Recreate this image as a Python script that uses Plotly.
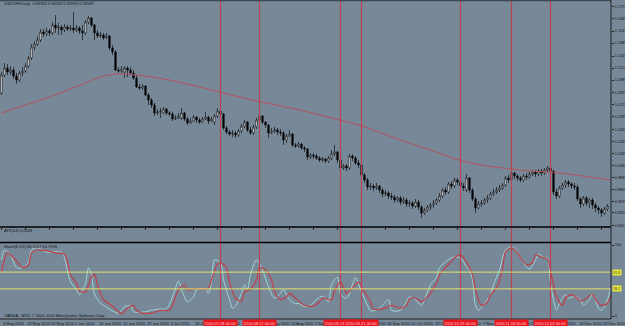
import plotly.graph_objects as go

# ---------------- data (USDCHF daily) ----------------
opens = [1.0846, 1.1040, 1.1116, 1.1072, 1.1094, 1.1029, 1.0986, 1.1062, 1.1083, 1.1137,
         1.1224, 1.1342, 1.1375, 1.1418, 1.1504, 1.1483, 1.1515, 1.1494, 1.1580, 1.1548,
         1.1558, 1.1526, 1.1558, 1.1537, 1.1548, 1.1526, 1.1548, 1.1515, 1.1494, 1.1612,
         1.1656, 1.1580, 1.1494, 1.1461, 1.1472, 1.1440, 1.1461, 1.1332, 1.1288, 1.1094,
         1.1083, 1.1072, 1.1116, 1.1094, 1.1062, 1.1008, 1.0910, 1.0900, 1.0921, 1.0824,
         1.0770, 1.0716, 1.0630, 1.0640, 1.0630, 1.0673, 1.0630, 1.0619, 1.0565, 1.0576,
         1.0576, 1.0630, 1.0565, 1.0522, 1.0543, 1.0586, 1.0554, 1.0532, 1.0565, 1.0586,
         1.0543, 1.0532, 1.0597, 1.0651, 1.0619, 1.0468, 1.0424, 1.0403, 1.0414, 1.0392,
         1.0435, 1.0489, 1.0532, 1.0446, 1.0414, 1.0478, 1.0554, 1.0597, 1.0532, 1.0500,
         1.0414, 1.0435, 1.0446, 1.0424, 1.0414, 1.0338, 1.0381, 1.0403, 1.0284, 1.0273,
         1.0295, 1.0252, 1.0241, 1.0154, 1.0176, 1.0165, 1.0144, 1.0122, 1.0133, 1.0111,
         1.0144, 1.0187, 1.0208, 1.0122, 1.0036, 1.0057, 1.0036, 1.0165, 1.0144, 1.0090,
         1.0068, 0.9960, 0.9906, 0.9830, 0.9841, 0.9820, 0.9841, 0.9798, 0.9755, 0.9766,
         0.9733, 0.9722, 0.9690, 0.9712, 0.9668, 0.9690, 0.9647, 0.9658, 0.9625, 0.9668,
         0.9614, 0.9550, 0.9582, 0.9614, 0.9636, 0.9658, 0.9690, 0.9733, 0.9798, 0.9776,
         0.9863, 0.9841, 0.9906, 0.9884, 0.9841, 0.9798, 0.9928, 0.9798, 0.9701, 0.9604,
         0.9647, 0.9658, 0.9690, 0.9712, 0.9755, 0.9776, 0.9798, 0.9820, 0.9852, 0.9928,
         0.9906, 0.9982, 0.9949, 0.9928, 0.9906, 0.9949, 0.9938, 0.9971, 0.9992, 0.9971,
         1.0003, 0.9982, 1.0014, 1.0036, 1.0003, 0.9776, 0.9733, 0.9820, 0.9852, 0.9884,
         0.9863, 0.9841, 0.9830, 0.9701, 0.9647, 0.9712, 0.9658, 0.9690, 0.9636, 0.9604,
         0.9582, 0.9550, 0.9593]
highs = [1.1072, 1.1170, 1.1159, 1.1137, 1.1126, 1.1062, 1.1083, 1.1126, 1.1170, 1.1245,
         1.1375, 1.1407, 1.1461, 1.1537, 1.1537, 1.1548, 1.1537, 1.1612, 1.1688, 1.1602,
         1.1580, 1.1591, 1.1580, 1.1580, 1.1720, 1.1580, 1.1569, 1.1580, 1.1634, 1.1677,
         1.1666, 1.1591, 1.1526, 1.1504, 1.1494, 1.1494, 1.1472, 1.1364, 1.1310, 1.1126,
         1.1137, 1.1137, 1.1137, 1.1126, 1.1094, 1.1040, 1.0943, 1.0943, 1.0932, 1.0846,
         1.0792, 1.0738, 1.0673, 1.0684, 1.0694, 1.0684, 1.0651, 1.0640, 1.0608, 1.0630,
         1.0684, 1.0640, 1.0586, 1.0576, 1.0608, 1.0597, 1.0576, 1.0586, 1.0640, 1.0597,
         1.0586, 1.0619, 1.0684, 1.0662, 1.0630, 1.0489, 1.0446, 1.0446, 1.0435, 1.0457,
         1.0511, 1.0554, 1.0543, 1.0478, 1.0500, 1.0576, 1.0630, 1.0608, 1.0543, 1.0511,
         1.0468, 1.0478, 1.0468, 1.0457, 1.0435, 1.0403, 1.0446, 1.0414, 1.0306, 1.0316,
         1.0306, 1.0273, 1.0252, 1.0198, 1.0198, 1.0187, 1.0165, 1.0154, 1.0144, 1.0165,
         1.0230, 1.0284, 1.0219, 1.0144, 1.0079, 1.0079, 1.0187, 1.0187, 1.0165, 1.0122,
         1.0090, 0.9982, 0.9928, 0.9874, 0.9863, 0.9874, 0.9852, 0.9820, 0.9798, 0.9787,
         0.9766, 0.9744, 0.9733, 0.9733, 0.9722, 0.9712, 0.9690, 0.9679, 0.9701, 0.9690,
         0.9636, 0.9604, 0.9636, 0.9658, 0.9690, 0.9712, 0.9766, 0.9820, 0.9830, 0.9884,
         0.9895, 0.9928, 0.9928, 0.9917, 0.9874, 0.9971, 0.9938, 0.9820, 0.9722, 0.9679,
         0.9690, 0.9712, 0.9744, 0.9776, 0.9809, 0.9830, 0.9852, 0.9874, 0.9949, 0.9960,
         1.0003, 0.9992, 0.9971, 0.9949, 0.9971, 0.9982, 0.9992, 1.0014, 1.0014, 1.0025,
         1.0025, 1.0036, 1.0057, 1.0057, 1.0014, 0.9809, 0.9841, 0.9874, 0.9906, 0.9906,
         0.9884, 0.9874, 0.9852, 0.9722, 0.9733, 0.9733, 0.9712, 0.9712, 0.9658, 0.9625,
         0.9604, 0.9614, 0.9647]
lows = [1.0824, 1.1018, 1.1040, 1.1040, 1.0997, 1.0943, 1.0964, 1.1029, 1.1062, 1.1116,
        1.1202, 1.1310, 1.1353, 1.1396, 1.1450, 1.1461, 1.1461, 1.1472, 1.1494, 1.1472,
        1.1472, 1.1504, 1.1515, 1.1515, 1.1494, 1.1504, 1.1483, 1.1418, 1.1472, 1.1591,
        1.1558, 1.1418, 1.1440, 1.1440, 1.1418, 1.1429, 1.1310, 1.1256, 1.1083, 1.1062,
        1.1062, 1.1008, 1.1018, 1.1040, 1.0986, 1.0900, 1.0878, 1.0878, 1.0813, 1.0716,
        1.0684, 1.0597, 1.0608, 1.0576, 1.0619, 1.0608, 1.0597, 1.0543, 1.0554, 1.0565,
        1.0554, 1.0543, 1.0500, 1.0511, 1.0532, 1.0522, 1.0511, 1.0522, 1.0554, 1.0511,
        1.0532, 1.0500, 1.0576, 1.0586, 1.0446, 1.0403, 1.0381, 1.0370, 1.0360, 1.0370,
        1.0414, 1.0468, 1.0424, 1.0392, 1.0392, 1.0457, 1.0532, 1.0511, 1.0468, 1.0360,
        1.0403, 1.0414, 1.0392, 1.0381, 1.0284, 1.0306, 1.0370, 1.0262, 1.0252, 1.0252,
        1.0230, 1.0208, 1.0122, 1.0133, 1.0133, 1.0122, 1.0100, 1.0100, 1.0090, 1.0090,
        1.0122, 1.0165, 1.0090, 0.9938, 1.0014, 1.0003, 1.0014, 1.0111, 1.0068, 1.0036,
        0.9928, 0.9874, 0.9798, 0.9798, 0.9787, 0.9798, 0.9766, 0.9722, 0.9733, 0.9701,
        0.9690, 0.9658, 0.9668, 0.9636, 0.9647, 0.9614, 0.9614, 0.9593, 0.9604, 0.9582,
        0.9496, 0.9528, 0.9560, 0.9582, 0.9604, 0.9636, 0.9668, 0.9712, 0.9744, 0.9755,
        0.9809, 0.9820, 0.9852, 0.9809, 0.9787, 0.9776, 0.9766, 0.9679, 0.9550, 0.9593,
        0.9614, 0.9636, 0.9658, 0.9690, 0.9733, 0.9755, 0.9776, 0.9798, 0.9830, 0.9874,
        0.9884, 0.9917, 0.9895, 0.9884, 0.9884, 0.9906, 0.9917, 0.9949, 0.9938, 0.9949,
        0.9949, 0.9960, 0.9992, 0.9960, 0.9744, 0.9701, 0.9712, 0.9798, 0.9820, 0.9830,
        0.9809, 0.9798, 0.9679, 0.9604, 0.9625, 0.9625, 0.9604, 0.9593, 0.9560, 0.9539,
        0.9506, 0.9528, 0.9571]
closes = [1.1040, 1.1116, 1.1072, 1.1094, 1.1029, 1.0986, 1.1062, 1.1083, 1.1137, 1.1224,
          1.1342, 1.1375, 1.1418, 1.1504, 1.1483, 1.1515, 1.1494, 1.1580, 1.1548, 1.1558,
          1.1526, 1.1558, 1.1537, 1.1548, 1.1526, 1.1548, 1.1515, 1.1494, 1.1612, 1.1656,
          1.1580, 1.1494, 1.1461, 1.1472, 1.1440, 1.1461, 1.1332, 1.1288, 1.1094, 1.1083,
          1.1105, 1.1116, 1.1094, 1.1062, 1.1008, 1.0910, 1.0900, 1.0921, 1.0824, 1.0770,
          1.0716, 1.0630, 1.0640, 1.0651, 1.0673, 1.0630, 1.0619, 1.0565, 1.0576, 1.0597,
          1.0630, 1.0565, 1.0522, 1.0543, 1.0586, 1.0554, 1.0532, 1.0565, 1.0586, 1.0543,
          1.0565, 1.0597, 1.0651, 1.0619, 1.0468, 1.0424, 1.0403, 1.0414, 1.0392, 1.0435,
          1.0489, 1.0532, 1.0446, 1.0414, 1.0478, 1.0554, 1.0597, 1.0532, 1.0500, 1.0414,
          1.0435, 1.0446, 1.0424, 1.0414, 1.0338, 1.0381, 1.0403, 1.0284, 1.0273, 1.0295,
          1.0252, 1.0241, 1.0154, 1.0176, 1.0165, 1.0144, 1.0122, 1.0133, 1.0111, 1.0144,
          1.0187, 1.0208, 1.0122, 1.0036, 1.0057, 1.0036, 1.0165, 1.0144, 1.0090, 1.0068,
          0.9960, 0.9906, 0.9830, 0.9841, 0.9820, 0.9841, 0.9798, 0.9755, 0.9766, 0.9733,
          0.9722, 0.9690, 0.9712, 0.9668, 0.9690, 0.9647, 0.9658, 0.9625, 0.9668, 0.9614,
          0.9550, 0.9582, 0.9614, 0.9636, 0.9658, 0.9690, 0.9733, 0.9798, 0.9776, 0.9863,
          0.9841, 0.9906, 0.9884, 0.9841, 0.9820, 0.9928, 0.9798, 0.9701, 0.9604, 0.9647,
          0.9658, 0.9690, 0.9712, 0.9755, 0.9776, 0.9798, 0.9820, 0.9852, 0.9928, 0.9906,
          0.9982, 0.9949, 0.9928, 0.9906, 0.9949, 0.9938, 0.9971, 0.9992, 0.9971, 1.0003,
          0.9982, 1.0014, 1.0036, 1.0003, 0.9776, 0.9733, 0.9820, 0.9852, 0.9884, 0.9863,
          0.9841, 0.9830, 0.9701, 0.9647, 0.9712, 0.9658, 0.9690, 0.9636, 0.9604, 0.9582,
          0.9550, 0.9593, 0.9625]

# moving average (bar index, value)
ma_idx = [0, 7, 16, 22, 28, 33, 37, 42, 50, 56, 61, 66, 73, 86, 100, 112, 120,
          133, 143, 153, 163, 170, 176, 183, 189, 196, 203]
ma_val = [1.0630, 1.0705, 1.0802, 1.0878, 1.0954, 1.1018, 1.1045, 1.1051, 1.1018,
          1.0986, 1.0948, 1.0910, 1.0851, 1.0754, 1.0657, 1.0559, 1.0489, 1.0338,
          1.0230, 1.0117, 1.0052, 1.0025, 1.0003, 0.9992, 0.9971, 0.9938, 0.9906]

# stochastic %K (main, cyan) and %D (signal, red)
stk_idx = [0, 1, 3, 5, 7, 9, 10, 12, 15, 20, 21, 23, 25, 26, 28, 29, 30, 31, 33, 34,
           37, 39, 41, 43, 44, 48, 50, 53, 55, 57, 59, 60, 62, 64, 65, 68, 69, 70, 71, 73,
           74, 76, 77, 78, 80, 81, 82, 83, 85, 87, 89, 91, 93, 94, 96, 98, 99, 101, 103, 105,
           107, 109, 110, 112, 113, 115, 117, 118, 120, 122, 123, 126, 129, 130, 133, 135, 136, 138, 140, 141,
           143, 145, 146, 148, 150, 151, 153, 155, 156, 157, 158, 159, 161, 163, 164, 166, 168, 170, 171, 173,
           175, 176, 178, 179, 181, 182, 183, 185, 186, 188, 189, 191, 193, 194, 196, 197, 199, 200, 202, 203]
stk_val = [79, 93, 86, 68, 68, 76, 93, 96, 90, 90, 82, 48, 37, 30, 46, 68, 58, 31, 18, 15,
           7, 4, 13, 14, 6, 6, 8, 10, 10, 27, 49, 37, 20, 27, 37, 38, 32, 48, 79, 75,
           51, 23, 11, 14, 32, 44, 37, 58, 79, 65, 41, 25, 32, 37, 23, 17, 18, 13, 15, 23,
           28, 20, 44, 55, 30, 25, 44, 54, 34, 15, 7, 11, 23, 8, 8, 20, 27, 23, 15, 23,
           44, 54, 68, 76, 82, 83, 82, 69, 65, 51, 15, 8, 18, 30, 44, 65, 93, 97, 96, 82,
           69, 66, 79, 87, 82, 82, 46, 8, 18, 30, 25, 28, 23, 15, 23, 31, 11, 8, 23, 39]
sig_idx = [0, 2, 4, 6, 7, 9, 10, 12, 15, 18, 21, 22, 23, 25, 26, 28, 30, 31, 32, 34,
           36, 38, 40, 42, 44, 45, 47, 50, 53, 56, 57, 59, 61, 62, 65, 66, 69, 70, 72, 73,
           75, 76, 78, 80, 81, 83, 85, 86, 88, 90, 91, 93, 95, 96, 98, 100, 101, 104, 106, 107,
           110, 111, 113, 115, 116, 118, 119, 121, 123, 124, 128, 130, 133, 135, 136, 138, 140, 141, 143, 145,
           146, 148, 150, 151, 153, 155, 157, 158, 160, 162, 163, 165, 167, 168, 170, 172, 173, 175, 177, 178,
           180, 182, 183, 185, 187, 188, 190, 192, 193, 195, 197, 198, 200, 202, 203]
sig_val = [62, 89, 82, 72, 68, 72, 89, 93, 92, 89, 87, 76, 58, 46, 35, 34, 55, 59, 44, 23,
           17, 10, 3, 11, 15, 8, 4, 4, 8, 8, 15, 37, 44, 37, 39, 38, 39, 51, 73, 75,
           68, 48, 25, 21, 34, 38, 51, 68, 65, 51, 34, 23, 27, 32, 25, 18, 15, 14, 20, 25,
           23, 35, 48, 32, 35, 44, 48, 34, 20, 10, 11, 15, 11, 15, 24, 25, 20, 23, 32, 46,
           58, 68, 77, 82, 86, 76, 58, 37, 15, 20, 30, 39, 65, 90, 96, 89, 82, 72, 75, 86,
           83, 80, 65, 27, 15, 25, 30, 25, 21, 25, 31, 23, 15, 18, 28]
stoch_levels = [61.8, 38.2]

# axis labels
date_idx = [0, 8, 16, 24, 32, 40, 48, 56, 64, 72, 80, 88, 96, 104, 112, 120, 128,
            136, 144, 152, 160, 168, 176, 184, 192, 200]
date_txt = ["4 May 2010", "13 May 2010", "23 May 2010", "1 Jun 2010", "10 Jun 2010",
            "20 Jun 2010", "29 Jun 2010", "8 Jul 2010", "18 Jul 2010", "27 Jul 2010",
            "5 Aug 2010", "15 Aug 2010", "24 Aug 2010", "2 Sep 2010", "12 Sep 2010",
            "21 Sep 2010", "30 Sep 2010", "10 Oct 2010", "19 Oct 2010", "28 Oct 2010",
            "7 Nov 2010", "16 Nov 2010", "25 Nov 2010", "5 Dec 2010", "14 Dec 2010",
            "23 Dec 2010"]
vline_idx = [73, 86, 113, 120, 153, 170, 183]
vline_txt = ["2010.07.28 00:00", "2010.08.12 00:00", "2010.09.13 00:00", "2010.09.21 00:00",
             "2010.10.29 00:00", "2010.11.18 00:00", "2010.12.03 00:00"]
price_ticks = [1.1775, 1.1645, 1.1515, 1.1385, 1.1245, 1.1115, 1.0985, 1.0855, 1.0725,
               1.0595, 1.0455, 1.0325, 1.0195, 1.0065, 0.9935, 0.9805, 0.9675, 0.9550, 0.9413]
price_tick_txt = ["1.17750", "1.16450", "1.15150", "1.13850", "1.12450", "1.11150",
                  "1.09850", "1.08550", "1.07250", "1.05950", "1.04550", "1.03250",
                  "1.01950", "1.00650", "0.99350", "0.98050", "0.96750", "0.95500", "0.94130"]
atr_ticks = [0.0, 0.0184]
atr_tick_txt = ["0.0000", "0.0184"]

# ---------------- layout helpers (pixel -> paper) ----------------
W, H = 625, 326
ML, MR, MT, MB = 0, 14, 0, 7
PH = H - MT - MB


def py(pix):
    return (PH - (pix - MT)) / PH


BG = "#778899"
FONT = "Liberation Sans"
idx = list(range(len(opens)))

fig = go.Figure()
fig.add_trace(go.Candlestick(
    x=idx, open=opens, high=highs, low=lows, close=closes,
    increasing=dict(fillcolor="#ffffff", line=dict(color="#000000", width=0.6)),
    decreasing=dict(fillcolor="#000000", line=dict(color="#000000", width=0.6)),
    whiskerwidth=0, showlegend=False, hoverinfo="skip", xaxis="x", yaxis="y"))
fig.add_trace(go.Scatter(x=ma_idx, y=ma_val, mode="lines", line=dict(color="#b8505c", width=1, shape="spline"),
                         showlegend=False, hoverinfo="skip", xaxis="x", yaxis="y"))
fig.add_trace(go.Scatter(x=stk_idx, y=stk_val, mode="lines", line=dict(color="#9ed6d6", width=1, shape="spline", smoothing=0.8),
                         showlegend=False, hoverinfo="skip", xaxis="x", yaxis="y3"))
fig.add_trace(go.Scatter(x=sig_idx, y=sig_val, mode="lines", line=dict(color="#c0404a", width=1.2, shape="spline", smoothing=0.8),
                         showlegend=False, hoverinfo="skip", xaxis="x", yaxis="y3"))

shapes = []
# vertical red lines
for v in vline_idx:
    shapes.append(dict(type="line", xref="x", yref="paper", x0=v, x1=v, y0=0, y1=py(1),
                       line=dict(color="#b8444f", width=1.2)))
# stochastic levels
for lv in stoch_levels:
    shapes.append(dict(type="line", xref="paper", yref="y3", x0=0, x1=1, y0=lv, y1=lv,
                       line=dict(color="#e4e46c", width=1)))
# panel separators
for p in (227, 242.5):
    shapes.append(dict(type="line", xref="paper", yref="paper", x0=0, x1=1, y0=py(p), y1=py(p),
                       line=dict(color="#000000", width=1.5)))
# top border and right axis line
shapes.append(dict(type="line", xref="paper", yref="paper", x0=0, x1=1, y0=py(0.5), y1=py(0.5),
                   line=dict(color="#3c4652", width=1.5)))
shapes.append(dict(type="line", xref="paper", yref="paper", x0=1, x1=1, y0=0, y1=1,
                   line=dict(color="#222222", width=1)))
shapes.append(dict(type="line", xref="paper", yref="paper", x0=0, x1=1, y0=0, y1=0,
                   line=dict(color="#222222", width=1)))

ann = []
tf = dict(family=FONT, size=4, color="#111111")
ann.append(dict(text="USDCHF,Daily  0.96365 0.96563 0.95959 0.96587", xref="paper", yref="paper",
                x=0.003, y=py(4), xanchor="left", yanchor="middle", showarrow=False, font=tf))
ann.append(dict(text="ATR(14) 0.0168", xref="paper", yref="paper",
                x=0.003, y=py(230.5), xanchor="left", yanchor="middle", showarrow=False, font=tf))
ann.append(dict(text="Stoch(8,3,3) 66.1057 64.7918", xref="paper", yref="paper",
                x=0.003, y=py(246), xanchor="left", yanchor="middle", showarrow=False, font=tf))
ann.append(dict(text="OANDA - MT4, \u00a9 2001-2011 MetaQuotes Software Corp.", xref="paper", yref="paper",
                x=0.003, y=py(315), xanchor="left", yanchor="middle", showarrow=False, font=tf))
for d, t in zip(date_idx, date_txt):
    ann.append(dict(text=t, xref="x", yref="paper", x=d - 0.3, y=py(323), xanchor="left", yanchor="middle",
                    showarrow=False, font=tf))
for v, t in zip(vline_idx, vline_txt):
    ann.append(dict(text=t, xref="x", yref="paper", x=v, y=py(323), xanchor="center", yanchor="middle",
                    showarrow=False, bgcolor="#e8161e", borderpad=0.5,
                    font=dict(family=FONT, size=4, color="#ffd8d8")))
for lv in stoch_levels:
    ann.append(dict(text=f"{lv:.1f}", xref="paper", yref="y3", x=1, y=lv, xanchor="left", yanchor="middle",
                    xshift=1, showarrow=False, bgcolor="#e8e83c", borderpad=0.5,
                    font=dict(family=FONT, size=3.3, color="#333333")))

axfont = dict(family=FONT, size=3.9, color="#111111")
fig.update_layout(
    width=W, height=H, margin=dict(l=ML, r=MR, t=MT, b=MB, pad=0),
    paper_bgcolor=BG, plot_bgcolor=BG, showlegend=False,
    shapes=shapes, annotations=ann,
    xaxis=dict(range=[-0.5, 203.17], showgrid=False, zeroline=False, showticklabels=False,
               ticks="outside", tickvals=date_idx, ticklen=2, tickcolor="#222222",
               rangeslider=dict(visible=False), fixedrange=True),
    yaxis=dict(domain=[py(227), py(1)], range=[0.93984, 1.18392], side="right", anchor="x",
               tickvals=price_ticks, ticktext=price_tick_txt, ticks="outside", ticklen=2,
               tickcolor="#222222", tickfont=axfont, showgrid=False, zeroline=False, automargin=False),
    yaxis2=dict(domain=[py(242.5), py(227)], range=[-0.00418, 0.02175], side="right", anchor="x",
                tickvals=atr_ticks, ticktext=atr_tick_txt, ticks="outside", ticklen=2,
                tickcolor="#222222", tickfont=axfont, showgrid=False, zeroline=False, automargin=False),
    yaxis3=dict(domain=[0, py(243)], range=[-4.23, 102.82], side="right", anchor="x",
                tickvals=[0, 100], ticktext=["0", "100"], ticks="outside", ticklen=2,
                tickcolor="#222222", tickfont=axfont, showgrid=False, zeroline=False, automargin=False),
)

fig.write_html("out.html")
